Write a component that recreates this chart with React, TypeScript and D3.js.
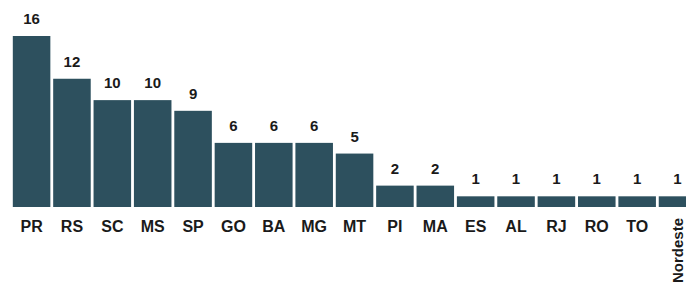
import React, { useEffect, useRef } from "react";
import * as d3 from "d3";

const categories = ["PR", "RS", "SC", "MS", "SP", "GO", "BA", "MG", "MT", "PI", "MA", "ES", "AL", "RJ", "RO", "TO", "Nordeste"];
const values = [16, 12, 10, 10, 9, 6, 6, 6, 5, 2, 2, 1, 1, 1, 1, 1, 1];

const width = 686;
const height = 286;

const App: React.FC = () => {
  const svgRef = useRef<SVGSVGElement | null>(null);

  useEffect(() => {
    if (!svgRef.current) return;
    const svg = d3.select(svgRef.current);
    svg.selectAll("*").remove();

    const baseline = 207;

    const x = d3
      .scaleBand<string>()
      .domain(categories)
      .range([12, 12 + 17 * 40.3])
      .paddingInner(0.07)
      .paddingOuter(0.02);

    const y = d3.scaleLinear().domain([0, 16]).range([baseline, 36]);

    const data = categories.map((c, i) => ({ name: c, value: values[i] }));

    // bars
    svg
      .append("g")
      .selectAll("rect")
      .data(data)
      .join("rect")
      .attr("x", (d) => x(d.name)!)
      .attr("y", (d) => y(d.value))
      .attr("width", x.bandwidth())
      .attr("height", (d) => baseline - y(d.value))
      .attr("fill", "#2d505e");

    // value labels
    svg
      .append("g")
      .selectAll("text")
      .data(data)
      .join("text")
      .attr("x", (d) => x(d.name)! + x.bandwidth() / 2)
      .attr("y", (d) => y(d.value) - 12)
      .attr("text-anchor", "middle")
      .attr("font-family", "Liberation Sans, Arial, sans-serif")
      .attr("font-weight", "bold")
      .attr("font-size", 15)
      .attr("fill", "#1a1a1a")
      .text((d) => d.value);

    // category labels
    svg
      .append("g")
      .selectAll("text")
      .data(data)
      .join("text")
      .attr("font-family", "Liberation Sans, Arial, sans-serif")
      .attr("font-weight", "bold")
      .attr("fill", "#1a1a1a")
      .each(function (d) {
        const cx = x(d.name)! + x.bandwidth() / 2;
        const t = d3.select(this);
        if (d.name.length > 3) {
          t.attr("text-anchor", "end")
            .attr("font-size", 15)
            .attr("transform", `translate(${cx + 5},${baseline + 11}) rotate(-90)`)
            .text(d.name);
        } else {
          t.attr("text-anchor", "middle")
            .attr("font-size", 16)
            .attr("x", cx)
            .attr("y", baseline + 25)
            .text(d.name);
        }
      });
  }, []);

  return (
    <svg
      ref={svgRef}
      width={width}
      height={height}
      style={{ position: "absolute", left: 0, top: 0, background: "#fff" }}
    />
  );
};

export default App;
